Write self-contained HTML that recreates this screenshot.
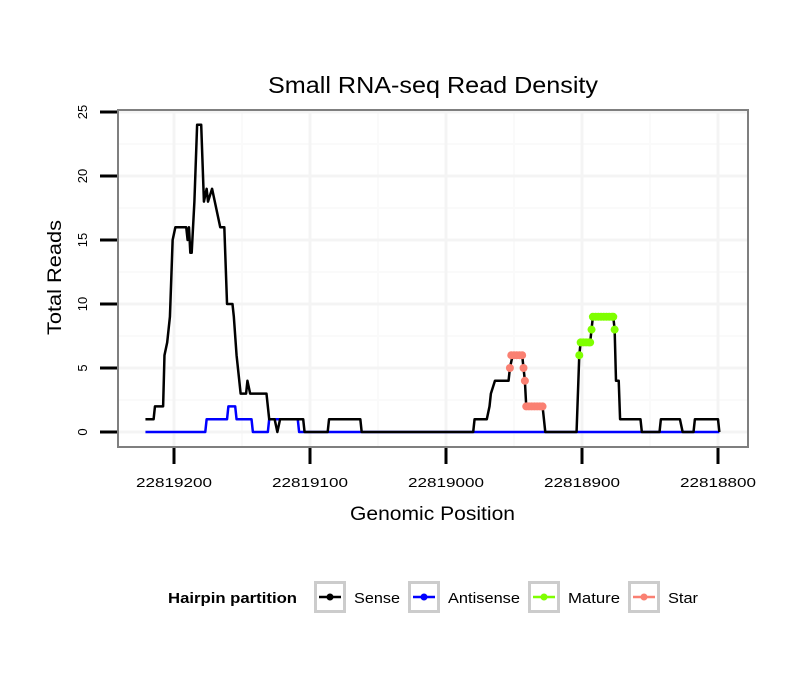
<!DOCTYPE html>
<html><head><meta charset="utf-8"><style>
body{margin:0;background:#fff;}
svg text{font-family:"Liberation Sans",Arial,sans-serif;}
</style></head><body>
<svg width="810" height="690" viewBox="0 0 810 690">
<rect x="0" y="0" width="810" height="690" fill="#fff"/>
<g id="grid"></g>
<g id="series"></g>
<rect x="118" y="110" width="630" height="337" fill="none" stroke="#7f7f7f" stroke-width="2"/>
<g id="axes"></g>
<text x="268" y="93" font-size="23" textLength="330" lengthAdjust="spacingAndGlyphs">Small RNA-seq Read Density</text>
<text x="350" y="520" font-size="19" textLength="165" lengthAdjust="spacingAndGlyphs">Genomic Position</text>
<text transform="translate(61,335) rotate(-90)" font-size="19" textLength="115" lengthAdjust="spacingAndGlyphs">Total Reads</text>
<g>
<text x="168" y="603" font-size="15" font-weight="bold" textLength="129" lengthAdjust="spacingAndGlyphs">Hairpin partition</text>
<g id="legend-items"></g>
</g>
</svg>
<script>
const xTicks=[22819200,22819100,22819000,22818900,22818800];
const yTicks=[0,5,10,15,20,25];
const sensePos=[22819221,22819215,22819214,22819208,22819207,22819205,22819203,22819201,22819199,22819191,22819190,22819189,22819188,22819187,22819185,22819183,22819180,22819178,22819176,22819175,22819172,22819166,22819163,22819161,22819157,22819156,22819154,22819152,22819151,22819147,22819146,22819144,22819132,22819130,22819126,22819124,22819122,22819105,22819104,22819087,22819086,22819063,22819062,22818980,22818979,22818970,22818968,22818967,22818964,22818954,22818953,22818951,22818944,22818943,22818942,22818941,22818929,22818927,22818904,22818902,22818901,22818894,22818893,22818892,22818877,22818876,22818875,22818873,22818872,22818857,22818856,22818843,22818842,22818828,22818826,22818818,22818817,22818800,22818799];
const senseVal=[1,1,2,2,6,7,9,15,16,16,15,16,14,14,18,24,24,18,19,18,19,16,16,10,10,9,6,4,3,3,4,3,3,1,1,0,1,1,0,0,1,1,0,0,1,1,2,3,4,4,5,6,6,5,4,2,2,0,0,6,7,7,8,9,9,8,4,4,1,1,0,0,1,1,0,0,1,1,0];
const antiPos=[22819221,22819177,22819176,22819161,22819160,22819155,22819154,22819143,22819142,22819131,22819130,22819109,22819108,22818799];
const antiVal=[0,0,1,1,2,2,1,1,0,0,1,1,0,0];
const starPos=[22818953,22818952,22818950,22818948,22818946,22818944,22818943,22818942,22818941,22818939,22818937,22818935,22818933,22818931,22818929];
const starVal=[5,6,6,6,6,6,5,4,2,2,2,2,2,2,2];
const maturePos=[22818902,22818901,22818899,22818897,22818895,22818894,22818893,22818892,22818890,22818888,22818886,22818884,22818882,22818880,22818878,22818877,22818876];
const matureVal=[6,7,7,7,7,7,8,9,9,9,9,9,9,9,9,9,8];
const legendLabels=["Sense","Antisense","Mature","Star"];
const legendColors=["#000000","#0000ff","#7fff00","#fa8072"];

const NS="http://www.w3.org/2000/svg";
function X(p){return 174+(22819200-p)*1.36;}
function Y(v){return 432-v*12.8;}
function mk(tag,attrs,parent){const e=document.createElementNS(NS,tag);for(const k in attrs)e.setAttribute(k,attrs[k]);parent.appendChild(e);return e;}
const grid=document.getElementById('grid'),series=document.getElementById('series'),axes=document.getElementById('axes');
for(let i=0;i<xTicks.length-1;i++){const xm=(X(xTicks[i])+X(xTicks[i+1]))/2;const l=mk('line',{x1:xm,x2:xm,y1:110,y2:447,stroke:'#fafafa','stroke-width':2},grid);

}
for(let i=0;i<yTicks.length-1;i++){const ym=(Y(yTicks[i])+Y(yTicks[i+1]))/2;const l=mk('line',{x1:118,x2:748,y1:ym,y2:ym,stroke:'#fafafa','stroke-width':2},grid);

}
xTicks.forEach(t=>{const x=X(t);
const g=mk('line',{x1:x,x2:x,y1:110,y2:447,stroke:'#f4f4f4','stroke-width':3},grid);


const tk=mk('line',{x1:x,x2:x,y1:448,y2:464,stroke:'#000','stroke-width':3},axes);


const tx=mk('text',{x:x-38,y:487,'font-size':13,textLength:76,lengthAdjust:'spacingAndGlyphs'},axes);tx.textContent=t;

});
yTicks.forEach(t=>{const y=Y(t);
const g=mk('line',{x1:118,x2:748,y1:y,y2:y,stroke:'#f4f4f4','stroke-width':3},grid);


const tk=mk('line',{x1:100,x2:117,y1:y,y2:y,stroke:'#000','stroke-width':3},axes);


const tx=mk('text',{transform:`translate(87,${y}) rotate(-90)`,'font-size':13,'text-anchor':'middle'},axes);tx.textContent=t;

});
function line(pos,val,color,name){const pts=pos.map((p,i)=>X(p)+','+Y(val[i])).join(' ');
const pl=mk('polyline',{points:pts,fill:'none',stroke:color,'stroke-width':2.5,'stroke-linejoin':'round'},series);

}
line(antiPos,antiVal,'#0000ff','antisense-line');
line(sensePos,senseVal,'#000000','sense-line');
function pts(pos,val,color,name){pos.forEach((p,i)=>{const c=mk('circle',{cx:X(p),cy:Y(val[i]),r:4,fill:color},series);

});}
pts(starPos,starVal,'#fa8072','star-point');
pts(maturePos,matureVal,'#7fff00','mature-point');
const li=document.getElementById('legend-items');
const bx=[314,408,528,628];
const tw=[46,72,52,30];
legendLabels.forEach((lab,i)=>{const x=bx[i];
const r=mk('rect',{x:x+1.5,y:582.5,width:29,height:29,fill:'#fff',stroke:'#cccccc','stroke-width':3},li);


const l=mk('line',{x1:x+5,x2:x+27,y1:597,y2:597,stroke:legendColors[i],'stroke-width':2.5},li);


const c=mk('circle',{cx:x+16,cy:597,r:3.5,fill:legendColors[i]},li);


const t=mk('text',{x:x+40,y:603,'font-size':15,textLength:tw[i],lengthAdjust:'spacingAndGlyphs'},li);t.textContent=lab;

});
</script>
</body></html>
